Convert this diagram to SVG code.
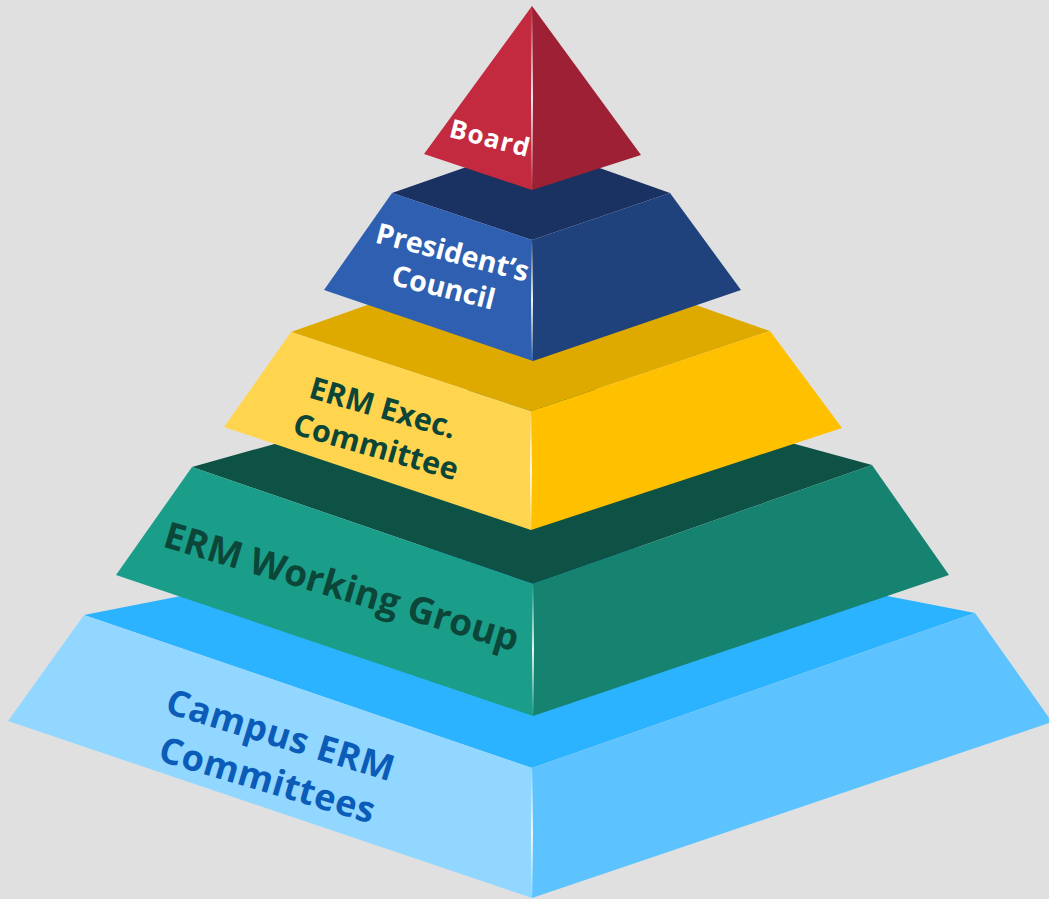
<svg xmlns="http://www.w3.org/2000/svg" width="1049" height="899" viewBox="0 0 1049 899">
<defs>
<linearGradient id="edge" x1="0" y1="0" x2="0" y2="1">
<stop offset="0" stop-color="#ffffff" stop-opacity="0"/>
<stop offset="0.5" stop-color="#ffffff" stop-opacity="0.9"/>
<stop offset="1" stop-color="#ffffff" stop-opacity="0"/>
</linearGradient>
<style>
.lbl{font-family:"Open Sans","Liberation Sans",sans-serif;font-weight:700;text-anchor:middle}
</style>
</defs>
<rect width="1049" height="899" fill="#e0e0e0"/>

<g id="campus">
<polygon points="84,615 532,768 975,613 532,527" fill="#2bb3ff"/>
<polygon points="84,615 532,768 532,898 8,721" fill="#92d7ff"/>
<polygon points="532,768 975,613 1052,722 532,898" fill="#5dc3fe"/>
<rect x="531" y="768" width="2" height="130" fill="url(#edge)"/>
<text class="lbl" font-size="36" letter-spacing="0.5" fill="#0b5cb8" transform="translate(277,747) rotate(17)">Campus ERM</text>
<text class="lbl" font-size="36" letter-spacing="0.5" fill="#0b5cb8" transform="translate(264,792) rotate(16.5)">Committees</text>
</g>

<g id="working-group">
<polygon points="192,467 533,584 872,465 532,372" fill="#0e5246"/>
<polygon points="192,467 533,584 533,716 116,575" fill="#1a9e8a"/>
<polygon points="533,584 872,465 949,575 533,716" fill="#168270"/>
<rect x="532" y="584" width="2" height="132" fill="url(#edge)"/>
<text class="lbl" font-size="37" fill="#0c4639" transform="translate(338,599) rotate(16.6)">ERM Working Group</text>
</g>

<g id="exec-committee">
<polygon points="291,332 531,411 770,331 531,247" fill="#dfaa00"/>
<polygon points="291,332 531,411 531,530 224,427" fill="#ffd54f"/>
<polygon points="531,411 770,331 842,428 531,530" fill="#ffc000"/>
<rect x="530" y="411" width="2" height="119" fill="url(#edge)"/>
<text class="lbl" font-size="30.5" fill="#0c4639" transform="translate(380,418) rotate(16)">ERM Exec.</text>
<text class="lbl" font-size="30.5" fill="#0c4639" transform="translate(373,457) rotate(16)">Committee</text>
</g>

<g id="presidents-council">
<polygon points="392,193 532,240 670,193 532,144" fill="#1a3261"/>
<polygon points="392,193 532,240 533,361 324,290" fill="#2e5fb0"/>
<polygon points="532,240 670,193 741,290 533,361" fill="#1f417c"/>
<rect x="531" y="240" width="2" height="121" fill="url(#edge)"/>
<text class="lbl" font-size="28.5" fill="#ffffff" transform="translate(450,262) rotate(14.6)">President’s</text>
<text class="lbl" font-size="28.5" fill="#ffffff" transform="translate(441,297) rotate(14)">Council</text>
</g>

<g id="board">
<polygon points="532,6 424,154 532,190" fill="#c3293f"/>
<polygon points="532,6 532,190 641,155" fill="#9e2034"/>
<rect x="531" y="6" width="2" height="184" fill="url(#edge)"/>
<text class="lbl" font-size="26" fill="#ffffff" letter-spacing="1" transform="translate(488,147) rotate(14.3)">Board</text>
</g>
</svg>
